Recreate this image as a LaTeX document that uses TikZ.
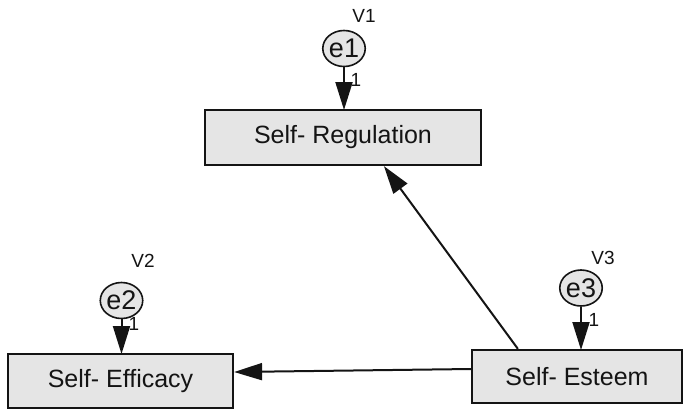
\documentclass[tikz,border=0pt]{standalone}
\usepackage{fontspec}
\setmainfont{Liberation Sans}
\usetikzlibrary{arrows.meta}
\definecolor{boxfill}{RGB}{229,229,229}
\definecolor{ink}{RGB}{20,20,20}
\tikzset{
  obsbox/.style={draw=ink, line width=2.2pt, fill=boxfill, inner sep=0pt,
    font=\fontsize{25}{30}\selectfont, text=ink},
  errnode/.style={draw=ink, line width=1.6pt, fill=boxfill, ellipse, inner sep=0pt,
    minimum width=42pt, minimum height=36pt, font=\fontsize{27}{30}\selectfont, text=ink},
  vlab/.style={font=\fontsize{19}{22}\selectfont, text=ink, inner sep=0pt},
  onelab/.style={font=\fontsize{19}{22}\selectfont, text=ink, inner sep=0pt},
  arr/.style={draw=ink, line width=2pt, -{Triangle[length=28pt,width=17pt]}},
}
\usetikzlibrary{shapes.geometric}
\begin{document}
\begin{tikzpicture}[x=1pt,y=-1pt]
\useasboundingbox (0,0) rectangle (684,410);
% boxes
\node[obsbox, minimum width=276pt, minimum height=55pt] (sr) at (343,137.5) {Self- Regulation};
\node[obsbox, minimum width=225pt, minimum height=54pt] (se) at (120.5,381) {Self- Efficacy};
\node[obsbox, minimum width=210pt, minimum height=53pt] (ss) at (577,376.5) {Self- Esteem};
% error terms
\node[errnode] (e1) at (344,48.5) {e1};
\node[errnode] (e2) at (121.5,300.5) {e2};
\node[errnode] (e3) at (581,288) {e3};
% variance labels
\node[vlab] (v1) at (364,16) {V1};
\node[vlab] (v2) at (143,261) {V2};
\node[vlab] (v3) at (603,258) {V3};
% error arrows
\coordinate (t1) at (344,110);
\coordinate (t2) at (121.5,354);
\coordinate (t3) at (581,350);
\draw[arr] (e1.south) -- (t1);
\draw[arr] (e2.south) -- (t2);
\draw[arr] (e3.south) -- (t3);
\node[onelab] (o1) at (356,80) {1};
\node[onelab] (o2) at (134,324) {1};
\node[onelab] (o3) at (594,320) {1};
% structural paths
\draw[arr] ([xshift=47pt]ss.north west) -- ([xshift=180pt]sr.south west);
\draw[arr] ([yshift=7.5pt]ss.west) -- ([yshift=9pt]se.east);
\end{tikzpicture}
\end{document}
